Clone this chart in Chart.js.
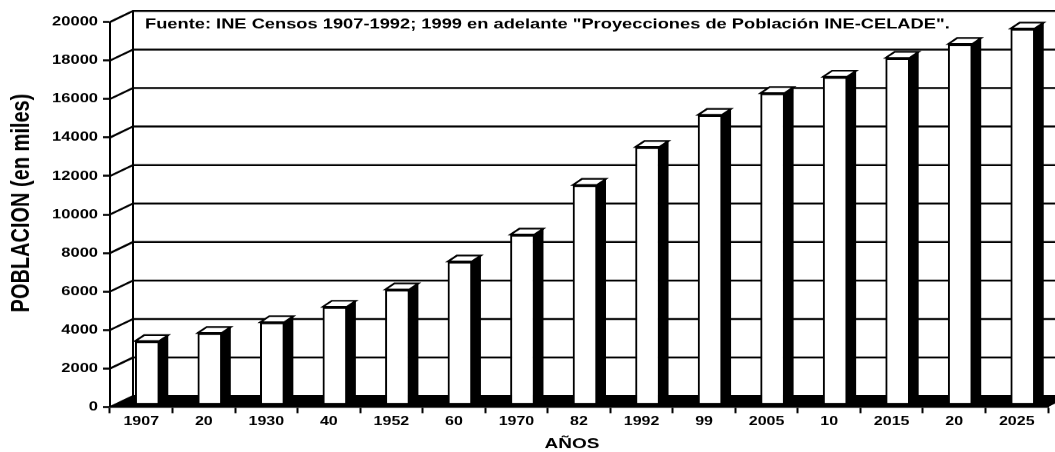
<!DOCTYPE html>
<html>
<head>
<meta charset="utf-8">
<script src="https://cdn.jsdelivr.net/npm/chart.js@4"></script>
<style>
  html, body { margin: 0; padding: 0; background: #fff; overflow: hidden; }
  /* the original picture is squashed vertically, so the canvas is drawn taller and shrunk */
  #grafico { display: block; width: 1055px; height: 452px; }
</style>
</head>
<body>
<canvas id="grafico" width="1055" height="588" style="width:1055px;height:452px"></canvas>
<script>
// datos
const anos = ['1907', '20', '1930', '40', '1952', '60', '1970', '82', '1992', '99', '2005', '10', '2015', '20', '2025'];
const poblacion = [3220, 3640, 4200, 5000, 5900, 7350, 8750, 11330, 13300, 14970, 16100, 16950, 17930, 18650, 19450];
const ejeMin = 0;
const ejeMax = 20000;
const ejePaso = 2000;

const fuente = 'Fuente: INE Censos 1907-1992; 1999 en adelante "Proyecciones de Población INE-CELADE".';
const tituloY = 'POBLACION (en miles)';
const tituloX = 'AÑOS';

const K = 588 / 452;          // factor de aplastamiento vertical
const FAM = '"Liberation Sans", Arial, sans-serif';
const PROF_X = 23, PROF_Y = 11 * K;   // profundidad del muro
const BARRA_X = 9, BARRA_Y = 6 * K;   // profundidad de cada barra

const efecto3D = {
    id: 'efecto3D',
    beforeDatasetsDraw(chart) {
        const ctx = chart.ctx;
        const a = chart.chartArea;
        const y = chart.scales.y;
        ctx.save();
        // piso negro
        ctx.fillStyle = '#000';
        ctx.beginPath();
        ctx.moveTo(a.left, a.bottom);
        ctx.lineTo(a.left + PROF_X, a.bottom - PROF_Y);
        ctx.lineTo(a.right + PROF_X, a.bottom - PROF_Y);
        ctx.lineTo(a.right, a.bottom);
        ctx.closePath();
        ctx.fill();
        // lineas del muro del fondo
        ctx.strokeStyle = '#000';
        ctx.lineWidth = 2.5;
        y.ticks.forEach(t => {
            const py = y.getPixelForValue(t.value);
            ctx.beginPath();
            ctx.moveTo(a.left, py);
            ctx.lineTo(a.left + PROF_X, py - PROF_Y);
            ctx.lineTo(chart.width, py - PROF_Y);
            ctx.stroke();
        });
        ctx.lineWidth = 2;
        ctx.beginPath();
        ctx.moveTo(a.left + PROF_X, a.top - PROF_Y);
        ctx.lineTo(a.left + PROF_X, a.bottom - PROF_Y);
        ctx.stroke();
        ctx.restore();
    },
    afterDatasetsDraw(chart) {
        const ctx = chart.ctx;
        const meta = chart.getDatasetMeta(0);
        ctx.save();
        meta.data.forEach(b => {
            const l = b.x - b.width / 2;
            const r = b.x + b.width / 2;
            // costado oscuro
            ctx.fillStyle = '#000';
            ctx.beginPath();
            ctx.moveTo(r - 1, b.y);
            ctx.lineTo(r + BARRA_X, b.y - BARRA_Y);
            ctx.lineTo(r + BARRA_X, b.base - BARRA_Y);
            ctx.lineTo(r - 1, b.base);
            ctx.closePath();
            ctx.fill();
            // tapa
            ctx.fillStyle = '#fff';
            ctx.strokeStyle = '#000';
            ctx.lineWidth = 2.2;
            ctx.beginPath();
            ctx.moveTo(l, b.y);
            ctx.lineTo(l + BARRA_X, b.y - BARRA_Y);
            ctx.lineTo(r + BARRA_X, b.y - BARRA_Y);
            ctx.lineTo(r, b.y);
            ctx.closePath();
            ctx.fill();
            ctx.stroke();
        });
        ctx.restore();
    },
    afterDraw(chart) {
        const ctx = chart.ctx;
        ctx.save();
        ctx.fillStyle = '#000';
        ctx.textBaseline = 'middle';
        // fuente
        ctx.font = 'bold 18.3px ' + FAM;
        ctx.textAlign = 'left';
        ctx.fillText(fuente, 145, 24.5 * K);
        // titulo eje x
        ctx.font = 'bold 19px ' + FAM;
        ctx.textAlign = 'center';
        ctx.fillText(tituloX, 572, 444 * K);
        // titulo eje y
        ctx.translate(22, 203 * K);
        ctx.rotate(-Math.PI / 2);
        ctx.font = 'bold 26px ' + FAM;
        ctx.fillText(tituloY, 0, 0);
        ctx.restore();
    }
};

new Chart(document.getElementById('grafico'), {
    type: 'bar',
    data: {
        labels: anos,
        datasets: [{
            data: poblacion.map((v, i) => ({ x: i, y: v })),
            xAxisID: 'xb',
            yAxisID: 'yb',
            backgroundColor: '#fff',
            borderColor: '#000',
            borderWidth: { left: 2, right: 2, top: 3, bottom: 0 },
            borderSkipped: false,
            barThickness: 24
        }]
    },
    options: {
        responsive: false,
        animation: false,
        layout: { padding: { top: 22 * K, right: 7, bottom: 0, left: 0 } },
        plugins: { legend: { display: false }, tooltip: { enabled: false } },
        scales: {
            xb: { type: 'linear', display: false, offset: false, min: -0.596, max: 14.404 },
            yb: { type: 'linear', display: false, min: -208, max: ejeMax - 208 },
            x: {
                type: 'category',
                position: 'bottom',
                offset: true,
                grid: { offset: true, drawOnChartArea: false, tickLength: 8, tickWidth: 2, tickColor: '#000' },
                border: { display: true, color: '#000', width: 2.6 },
                ticks: { color: '#000', font: { family: FAM, size: 16, weight: 'bold' }, padding: 2, maxRotation: 0, autoSkip: false },
                afterFit: s => { s.height = 588 - 407 * K; }
            },
            y: {
                type: 'linear',
                position: 'left',
                min: ejeMin,
                max: ejeMax,
                grid: { drawOnChartArea: false, tickLength: 7, tickWidth: 2.6, tickColor: '#000' },
                border: { display: true, color: '#000', width: 2 },
                ticks: {
                    stepSize: ejePaso,
                    color: '#000',
                    padding: 5,
                    font: { family: FAM, size: 16.5, weight: 'bold' },
                    callback: v => String(v)
                },
                afterFit: s => { s.width = 110; }
            }
        }
    },
    plugins: [efecto3D]
});
</script>
</body>
</html>
